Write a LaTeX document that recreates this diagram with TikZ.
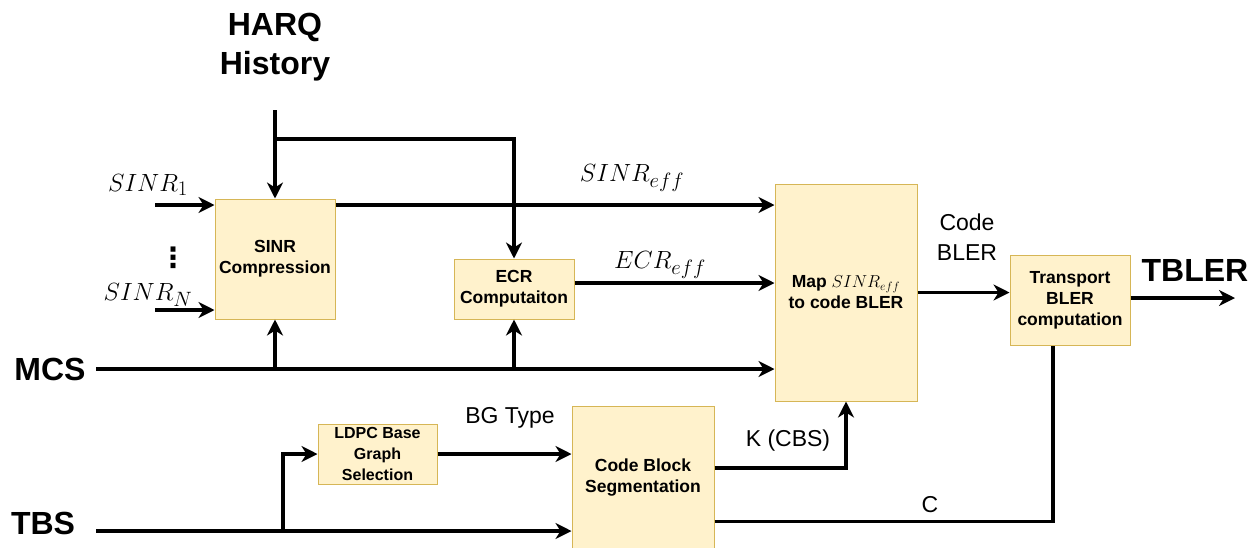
\documentclass[tikz,border=0pt]{standalone}
\usepackage{fontspec}
\setmainfont{Liberation Sans}
\newfontfamily\dejavu{DejaVu Sans}
\usetikzlibrary{arrows.meta,calc}
\definecolor{boxfill}{HTML}{FFF2CC}
\definecolor{boxdraw}{HTML}{D6B656}
\begin{document}
\begin{tikzpicture}[x=1pt,y=-1pt,
 blk/.style={draw=boxdraw,fill=boxfill,line width=1pt,inner sep=0pt,align=center,font=\bfseries\fontsize{17.5}{21}\selectfont},
 wire/.style={line width=3.5pt},
 arr/.style={wire,-{Stealth[length=16pt,width=16pt,inset=5pt]}},
 big/.style={font=\bfseries\fontsize{32}{39}\selectfont,align=center,inner sep=0pt},
 lab/.style={font=\fontsize{23}{30}\selectfont,align=center,inner sep=0pt},
 mlab/.style={font=\fontsize{28}{30}\selectfont,inner sep=0pt}]
\useasboundingbox[fill=white] (0,0) rectangle (1259,547);

% blocks
\node[blk,minimum width=120pt,minimum height=120pt] (sinr) at (275,259) {SINR\\Compression};
\node[blk,minimum width=120pt,minimum height=60pt] (ecr) at (514,289) {ECR\\Computaiton};
\node[blk,minimum width=142pt,minimum height=217pt] (map) at (846,292.5) {Map $SINR_{eff}$\\to code BLER};
\node[blk,minimum width=120pt,minimum height=90pt] (tr) at (1070,300) {Transport\\BLER\\computation};
\node[blk,minimum width=119pt,minimum height=60pt,font=\bfseries\fontsize{16}{21}\selectfont] (ldpc) at (377.5,454) {LDPC Base\\Graph\\Selection};
\node[blk,minimum width=142pt,minimum height=143pt] (cbs) at (643,477.5) {Code Block\\Segmentation};

% big labels
\node[big] (harq) at (275,47) {HARQ\\History};
\node[big] (mcs) at (50,369) {MCS};
\node[big] (tbs) at (43,523) {TBS};
\node[big] (tbler) at (1195,270) {TBLER};

% math labels
\node[mlab] (l1) at (148,185) {$SINR_1$};
\node[mlab] (ln) at (148,295) {$SINR_N$};
\node[mlab] (leff) at (632,178) {$SINR_{eff}$};
\node[mlab] (lecr) at (660,265) {$ECR_{eff}$};
\node[inner sep=0pt,font=\dejavu\bfseries\fontsize{28}{30}\selectfont] (dots) at (173,258) {⋮};

% text labels
\node[lab] (cb) at (967,237) {Code\\BLER};
\node[lab] (bg) at (510,418) {BG Type};
\node[lab] (k) at (788,441) {K (CBS)};
\node[lab] (c) at (930,505) {C};

% coordinates
\coordinate (hq) at (275,110);
\coordinate (hb) at (275,139);
\coordinate (s1) at (155,205);
\coordinate (sn) at (155,310);
\coordinate (mcsS) at (96,369);
\coordinate (tbsS) at (96,531);
\coordinate (tb) at (283,531);
\coordinate (tout) at (1235,298);
\coordinate (ee) at ([yshift=6pt]ecr.east);
\coordinate (kk) at ([yshift=9.5pt]cbs.east);
\coordinate (cc) at ([yshift=-44pt]cbs.east);
\coordinate (ct) at ([xshift=-17pt]tr.south);

% connectors
\draw[arr] (hq) -- (sinr.north);
\draw[arr] (hb) -| (ecr.north);
\draw[arr] (s1) -- (s1 -| sinr.west);
\draw[arr] (sn) -- (sn -| sinr.west);
\draw[arr] (s1 -| sinr.east) -- (s1 -| map.west);
\draw[arr] (ee) -- (ee -| map.west);
\draw[arr] (mcsS) -- (mcsS -| map.west);
\draw[arr] (mcsS -| sinr.south) -- (sinr.south);
\draw[arr] (mcsS -| ecr.south) -- (ecr.south);
\draw[arr] (map.east) -- (map.east -| tr.west);
\draw[arr] (tout -| tr.east) -- (tout);
\draw[arr] (tbsS) -- (tbsS -| cbs.west);
\draw[arr] (tb) |- (ldpc.west);
\draw[arr] (ldpc.east) -- (ldpc.east -| cbs.west);
\draw[arr] (kk) -| (map.south);
\draw[wire] (cc) -| (ct);
\end{tikzpicture}
\end{document}
